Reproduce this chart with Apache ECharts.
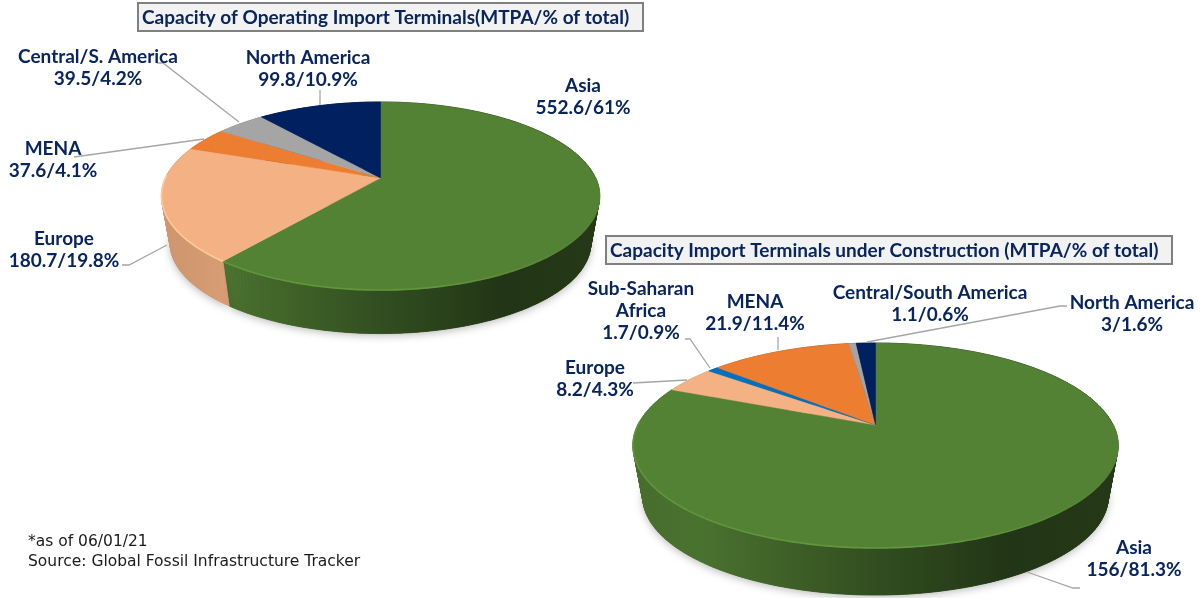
<!DOCTYPE html>
<html>
<head>
<meta charset="utf-8">
<style>html,body{margin:0;padding:0;background:#fff}#c{width:1203px;height:598px}</style>
<script src="https://cdn.jsdelivr.net/npm/echarts@6/dist/echarts.min.js"></script>
</head>
<body>
<div id="c"></div>
<script>
// ---- data ----
const operatingTitle = 'Capacity of Operating Import Terminals(MTPA/% of total)';
const operatingNames = ['Asia', 'Europe', 'MENA', 'Central/S. America', 'North America'];
const operatingValues = [552.6, 180.7, 37.6, 39.5, 99.8];
const operatingShares = ['61', '19.8', '4.1', '4.2', '10.9'];

const constructionTitle = 'Capacity Import Terminals under Construction (MTPA/% of total)';
const constructionNames = ['Asia', 'Europe', 'Sub-Saharan\nAfrica', 'MENA', 'Central/South America', 'North America'];
const constructionValues = [156, 8.2, 1.7, 21.9, 1.1, 3];
const constructionShares = ['81.3', '4.3', '0.9', '11.4', '0.6', '1.6'];

const footnoteLines = ['*as of 06/01/21', 'Source: Global Fossil Infrastructure Tracker'];

// ---- styling / layout ----
const operatingColors = ['#548235', '#f4b183', '#ed7d31', '#a5a5a5', '#002060'];
const constructionColors = ['#548235', '#f4b183', '#0070c0', '#ed7d31', '#a5a5a5', '#002060'];
const textColor = '#082560';
const leaderColor = '#a6a6a6';
const labelFont = 'Lato, "Noto Sans", sans-serif';

// perspective ellipse geometry of each pie
const operatingGeom = {cx: 380.5, cy: 178, R: 215, B: 90.6, p: 0.1915, depth: 48, shrink: 0.96, left: 161, right: 600};
const constructionGeom = {cx: 875.5, cy: 425, R: 237.6, B: 98.4, p: 0.2, depth: 52, shrink: 0.96, left: 633, right: 1118};

const operatingLabelPos = [[583, 97], [64, 250], [53, 160], [98, 68], [308, 69]];
const constructionLabelPos = [[1134, 559], [595, 379], [641, 311], [755, 313], [930, 304], [1132, 314]];
const leaders = [
  [[122, 265], [129, 265], [167, 245]],
  [[74, 157], [204, 139]],
  [[157, 63], [163, 63], [239, 122]],
  [[320, 90], [320, 105]],
  [[1027, 572], [1073, 588], [1080, 588]],
  [[633, 383], [687, 380]],
  [[685, 339], [690, 339], [710, 368]],
  [[778, 337], [778, 350]],
  [[1067, 306], [1060, 306], [867, 342]]
];

const shadeStops = [[0, .84], [.14, .88], [.5, .6], [.78, .41], [1, .44]];
function hexShade(hex, k) {
  const n = parseInt(hex.slice(1), 16);
  const c = [n >> 16, (n >> 8) & 255, n & 255].map(v => Math.min(255, Math.round(v * k)));
  return 'rgb(' + c.join(',') + ')';
}
function wallFill(color, g) {
  return new echarts.graphic.LinearGradient(g.left, 0, g.right, 0,
    shadeStops.map(s => ({offset: s[0], color: hexShade(color, s[1])})), true);
}
function rimStroke(color, g) {
  return new echarts.graphic.LinearGradient(g.left, 0, g.right, 0, [
    {offset: 0, color: hexShade(color, 1.14)},
    {offset: .6, color: hexShade(color, 1.16)},
    {offset: 1, color: hexShade(color, 1)}
  ], true);
}
function project(g, deg, lower) {
  const t = deg * Math.PI / 180;
  const w = 1 + g.p * Math.cos(t);
  const x = g.R * Math.sin(t) / w;
  const y = -g.B * Math.cos(t) / w;
  if (lower) return [g.cx + x * g.shrink, g.cy + y * g.shrink + g.depth];
  return [g.cx + x, g.cy + y];
}
function sliceRange(values, i) {
  const total = values.reduce((a, b) => a + b, 0);
  let before = 0;
  for (let k = 0; k < i; k++) before += values[k];
  return [before / total * 360, (before + values[i]) / total * 360];
}
function arc(g, a0, a1, lower) {
  const pts = [];
  const n = Math.max(2, Math.ceil(a1 - a0));
  for (let k = 0; k <= n; k++) pts.push(project(g, a0 + (a1 - a0) * k / n, lower));
  return pts;
}
function wallSeries(values, colors, g, z) {
  return {
    type: 'custom', coordinateSystem: 'none', silent: true, z,
    data: values.map(v => [v]), animation: false,
    renderItem(params) {
      const [a0, a1] = sliceRange(values, params.dataIndex);
      const upper = arc(g, a0, a1, false), lower = arc(g, a0, a1, true);
      const fill = wallFill(colors[params.dataIndex], g);
      const children = [{
        type: 'polygon', shape: {points: lower},
        style: {fill: fill, shadowBlur: 8, shadowColor: 'rgba(0,0,0,0.28)', shadowOffsetY: 2}
      }];
      for (let k = 0; k < upper.length - 1; k++) {
        children.push({
          type: 'polygon',
          shape: {points: [upper[k], upper[k + 1], lower[k + 1], lower[k]]},
          style: {fill: fill, stroke: fill, lineWidth: 0.8}
        });
      }
      return {type: 'group', children};
    }
  };
}
function topSeries(values, colors, g, z) {
  return {
    type: 'custom', coordinateSystem: 'none', silent: true, z,
    data: values.map(v => [v]), animation: false,
    renderItem(params) {
      const i = params.dataIndex;
      const [a0, a1] = sliceRange(values, i);
      const edge = arc(g, a0, a1, false);
      const children = [{
        type: 'polygon',
        shape: {points: [[g.cx, g.cy]].concat(edge)},
        style: {fill: colors[i], stroke: colors[i], lineWidth: 0.4}
      }];
      const f0 = Math.max(a0, 90), f1 = Math.min(a1, 272);
      if (f1 > f0) {
        children.push({
          type: 'polyline', shape: {points: arc(g, f0, f1, false)},
          style: {fill: 'none', stroke: rimStroke(colors[i], g), lineWidth: 1.6}
        });
      }
      return {type: 'group', children};
    }
  };
}
function labelGraphics(names, values, shares, pos) {
  return names.map((name, i) => ({
    type: 'text', x: pos[i][0], y: pos[i][1], z: 20,
    style: {
      text: name + '\n' + values[i] + '/' + shares[i] + '%',
      font: 'bold 19px ' + labelFont, lineHeight: 22,
      fill: textColor, align: 'center', verticalAlign: 'middle'
    }
  }));
}
const titleStyle = {fontFamily: labelFont, fontWeight: 'bold', fontSize: 19, color: textColor, lineHeight: 21};

const option = {
  backgroundColor: '#fff',
  animation: false,
  title: [
    {text: operatingTitle, left: 138, top: 3, z: 15, backgroundColor: '#f2f2f2', borderColor: '#808080', borderWidth: 2,
     borderRadius: 0, padding: [4, 14, 3, 4], textStyle: titleStyle},
    {text: constructionTitle, left: 606, top: 236, z: 15, backgroundColor: '#f2f2f2', borderColor: '#808080', borderWidth: 2,
     borderRadius: 0, padding: [4, 14, 3, 4], textStyle: titleStyle}
  ],
  series: [
    wallSeries(operatingValues, operatingColors, operatingGeom, 2),
    topSeries(operatingValues, operatingColors, operatingGeom, 3),
    wallSeries(constructionValues, constructionColors, constructionGeom, 4),
    topSeries(constructionValues, constructionColors, constructionGeom, 5)
  ],
  graphic: {elements: [
    ...leaders.map(p => ({type: 'polyline', z: 10, shape: {points: p}, style: {fill: 'none', stroke: leaderColor, lineWidth: 1.3}})),
    ...labelGraphics(operatingNames, operatingValues, operatingShares, operatingLabelPos),
    ...labelGraphics(constructionNames, constructionValues, constructionShares, constructionLabelPos),
    {type: 'text', x: 28, y: 552, z: 20, style: {
      text: footnoteLines.join('\n'), font: '15.5px "DejaVu Sans", sans-serif', lineHeight: 20,
      fill: '#1a1a1a', align: 'left', verticalAlign: 'middle'}}
  ]}
};
echarts.init(document.getElementById('c'), null, {renderer: 'canvas', width: 1203, height: 598}).setOption(option);
</script>
</body>
</html>
